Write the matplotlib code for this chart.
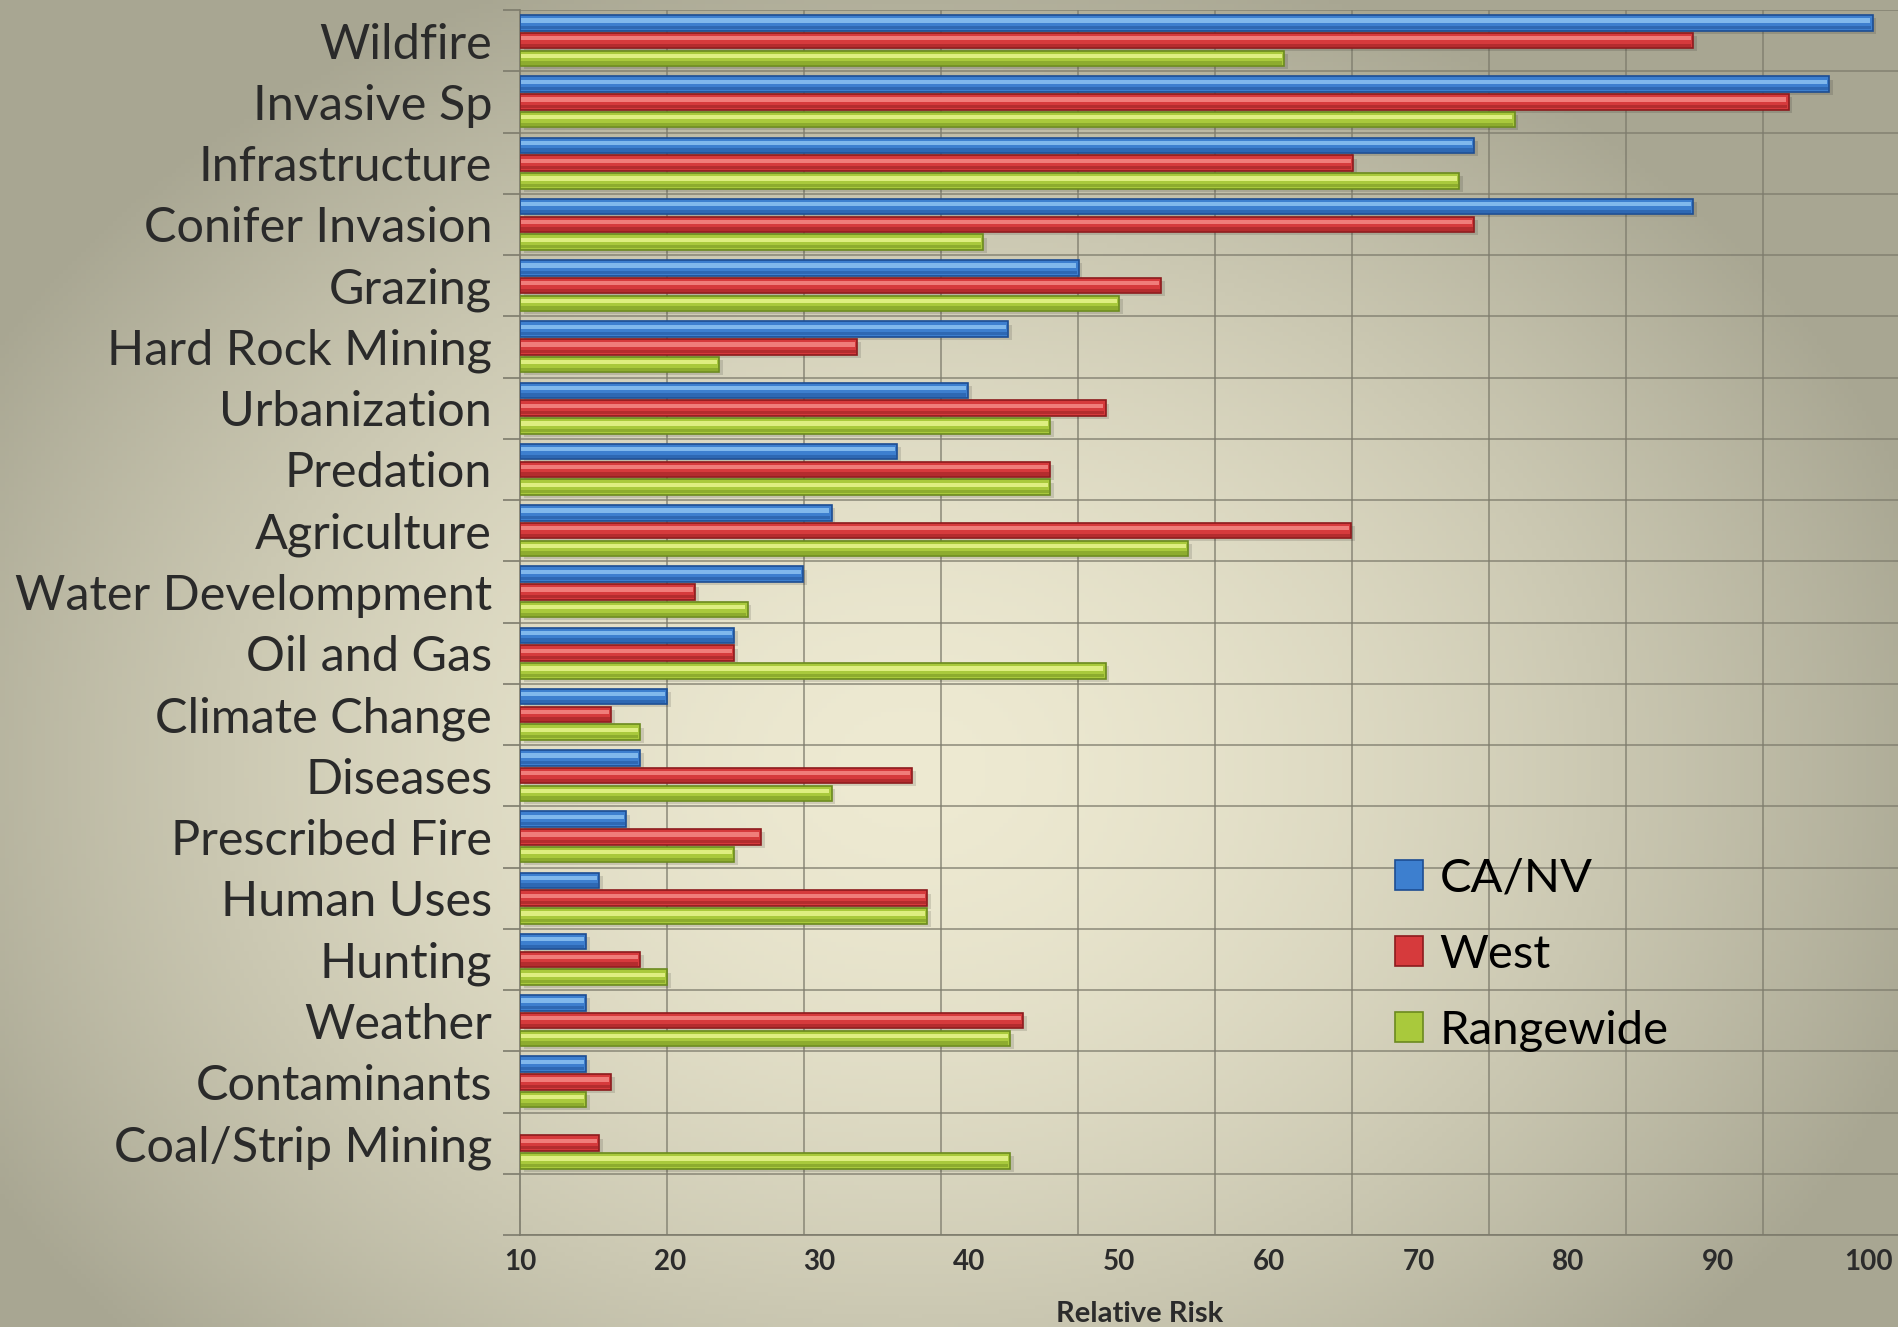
import numpy as np
import matplotlib.pyplot as plt
from matplotlib.patches import Patch
from matplotlib.ticker import FixedLocator

### data ###

categories = ["Wildfire", "Invasive Sp", "Infrastructure", "Conifer Invasion", "Grazing",
              "Hard Rock Mining", "Urbanization", "Predation", "Agriculture",
              "Water Develompment", "Oil and Gas", "Climate Change", "Diseases",
              "Prescribed Fire", "Human Uses", "Hunting", "Weather", "Contaminants",
              "Coal/Strip Mining"]

ca_nv = [100.3, 97.4, 73.7, 88.3, 47.3, 42.6, 39.9, 35.2, 30.8, 28.9, 24.3,
         19.8, 18.0, 17.1, 15.3, 14.4, 14.4, 14.4, 0]
west = [88.3, 94.7, 65.6, 73.7, 52.8, 32.5, 49.1, 45.4, 65.5, 21.7, 24.3,
        16.1, 36.2, 26.1, 37.2, 18.0, 43.6, 16.1, 15.3]
rangewide = [61.0, 76.4, 72.7, 40.9, 50.0, 23.3, 45.4, 45.4, 54.6, 25.2, 49.1,
             18.0, 30.8, 24.3, 37.2, 19.8, 42.7, 14.4, 42.7]

series = ["CA/NV", "West", "Rangewide"]
xticks = [10, 20, 30, 40, 50, 60, 70, 80, 90, 100]

# main, highlight, dark edge
colors = {"CA/NV": ("#3d7fcf", "#8cc3f2", "#1d4d92"),
          "West": ("#d63a3c", "#f58a86", "#8c1b1d"),
          "Rangewide": ("#a9c93c", "#e8f58e", "#6b8a1f")}

### figure ###

W, H = 1898, 1327
fig = plt.figure(figsize=(W / 100, H / 100), dpi=100)

# vignette background
bg = fig.add_axes([0, 0, 1, 1], zorder=-10)
yy, xx = np.mgrid[0:1:300j, 0:1:420j]
r = np.sqrt(((xx - 0.48) / 0.75) ** 2 + ((yy - 0.58) / 0.85) ** 2)
r = np.clip(r / 0.75, 0, 1) ** 1.6
inner = np.array([238, 234, 210]) / 255
outer = np.array([168, 166, 146]) / 255
img = inner[None, None, :] * (1 - r[..., None]) + outer[None, None, :] * r[..., None]
bg.imshow(img, aspect="auto", extent=[0, 1, 0, 1], origin="upper")
bg.axis("off")

ax = fig.add_axes([520 / W, 92 / H, 1 - 520 / W, (1235 - 10) / H])
ax.set_facecolor("none")

y = np.arange(len(categories))
offs = [-0.29, 0.0, 0.29]
bh = 0.25
for s, vals, off in zip(series, [ca_nv, west, rangewide], offs):
    main, light, dark = colors[s]
    v = np.array(vals, dtype=float)
    keep = v > 10
    v = v[keep] - 10
    yb = y[keep] + off
    # soft shadow
    ax.barh(yb + 0.05, v, left=10.25, height=bh, color="black", alpha=0.12, zorder=2)
    ax.barh(yb, v, left=10, height=bh, color=main, edgecolor=dark, linewidth=1.2, zorder=3)
    ax.barh(yb - 0.04, v - 0.25, left=10.1, height=bh * 0.28, color=light,
            alpha=0.85, linewidth=0, zorder=4)
    ax.barh(yb + 0.075, v - 0.1, left=10, height=bh * 0.22, color=dark,
            alpha=0.45, linewidth=0, zorder=4)

ax.set_xlim(10, 102)
ax.set_ylim(19.5, -0.5)

# x axis
ax.set_xticks(xticks)
ax.set_xticklabels([str(t) for t in xticks], fontsize=20, fontweight="bold", color="#2b2b2b",
                   family="Lato")
ax.tick_params(axis="x", which="major", length=0, pad=10)
ax.xaxis.set_minor_locator(FixedLocator(np.arange(19.8, 102, 9.15)))
ax.tick_params(axis="x", which="minor", length=0)
ax.grid(axis="x", which="minor", color="#7d7b6c", linewidth=1.2, alpha=0.8)

# y axis: boundaries as major ticks, names as minor
ax.set_yticks(np.arange(-0.5, 20, 1))
ax.set_yticklabels([])
ax.set_yticks(y, minor=True)
ax.set_yticklabels(categories, minor=True, fontsize=35, color="#2a2a2a", family="Lato")
ax.tick_params(axis="y", which="major", length=12, width=1.2, color="#7d7b6c", direction="out")
ax.tick_params(axis="y", which="minor", length=0, pad=20)
ax.grid(axis="y", which="major", color="#7d7b6c", linewidth=1.2, alpha=0.8)

for side in ["top", "right"]:
    ax.spines[side].set_visible(False)
for side in ["left", "bottom"]:
    ax.spines[side].set_color("#7d7b6c")
    ax.spines[side].set_linewidth(1.2)

fig.text(1140 / W, 1 - 1314 / H, "Relative Risk", ha="center", va="center",
         fontsize=21, fontweight="bold", color="#2b2b2b", family="Lato")

handles = [Patch(facecolor=colors[s][0], edgecolor=colors[s][2], linewidth=1.2) for s in series]
ax.legend(handles, series, loc="upper left", bbox_to_anchor=(1352 / W, 1 - 815 / H),
          bbox_transform=fig.transFigure, frameon=False,
          handlelength=0.6, handleheight=0.6, handletextpad=0.35, labelspacing=0.72,
          prop={"family": "Lato", "size": 34})

fig.savefig("out.png", dpi=100)
